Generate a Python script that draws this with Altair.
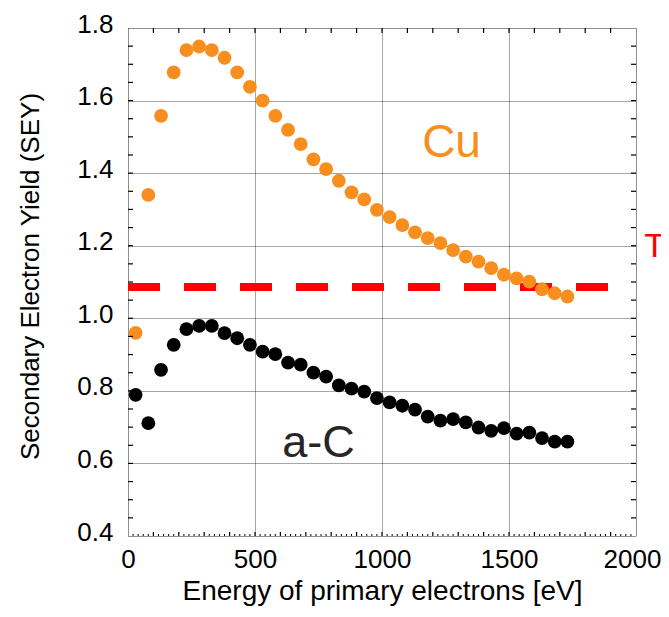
import altair as alt
import pandas as pd

# ---- data ----
energy = [30, 80, 130, 180, 230, 280, 330, 380, 430, 480, 530, 580, 630, 680,
          730, 780, 830, 880, 930, 980, 1030, 1080, 1130, 1180, 1230, 1280,
          1330, 1380, 1430, 1480, 1530, 1580, 1630, 1680, 1730]
sey_cu = [0.96, 1.34, 1.558, 1.678, 1.739, 1.749, 1.739, 1.718, 1.678, 1.638,
          1.600, 1.558, 1.519, 1.480, 1.438, 1.411, 1.379, 1.347, 1.328, 1.299,
          1.279, 1.257, 1.237, 1.221, 1.207, 1.188, 1.170, 1.156, 1.138, 1.120,
          1.110, 1.101, 1.080, 1.069, 1.060]
sey_ac = [0.789, 0.711, 0.858, 0.927, 0.970, 0.979, 0.979, 0.959, 0.945, 0.927,
          0.908, 0.901, 0.878, 0.872, 0.850, 0.839, 0.815, 0.806, 0.798, 0.780,
          0.768, 0.759, 0.748, 0.729, 0.718, 0.722, 0.713, 0.699, 0.690, 0.697,
          0.682, 0.685, 0.670, 0.660, 0.660]
series_names = ["Cu", "a-C"]
series_colors = ["#F78E1E", "#000000"]
threshold_value = [1.086]
threshold_start = [0]
threshold_end = [1890]
x_tick_labels = [0, 500, 1000, 1500, 2000]
y_tick_labels = [0.4, 0.6, 0.8, 1.0, 1.2, 1.4, 1.6, 1.8]

W, H = 508, 508
FONT = "Liberation Sans"

rows = []
for e, v in zip(energy, sey_cu):
    rows.append({"E": e, "V": v, "s": "Cu"})
for e, v in zip(energy, sey_ac):
    rows.append({"E": e, "V": v, "s": "a-C"})
pts_df = pd.DataFrame(rows)

xscale = alt.Scale(domain=[0, 2000], nice=False, zero=False)
yscale = alt.Scale(domain=[0.4, 1.8], nice=False, zero=False)

xaxis = alt.Axis(values=x_tick_labels, format="d", grid=True, gridDash=[1, 1],
                 gridColor="#000000", gridWidth=1, gridOpacity=0.7, ticks=False,
                 tickSize=0, domain=False,
                 labelFont=FONT, labelFontSize=26, labelColor="#000000", labelPadding=10,
                 labelOffset={"expr": "datum.value === 2000 ? -4 : 0"},
                 labelFlush=False, labelOverlap=False,
                 title="Energy of primary electrons [eV]", titleFont=FONT,
                 titleFontSize=28, titleFontWeight="normal", titleColor="#000000",
                 titleBaseline="alphabetic", titleY=63)
yaxis = alt.Axis(values=y_tick_labels, format=".1f", grid=True, gridDash=[1, 1],
                 gridColor="#000000", gridWidth=1, gridOpacity=0.7, ticks=False,
                 tickSize=0, domain=False,
                 labelFont=FONT, labelFontSize=26, labelColor="#000000", labelPadding=15,
                 labelOffset=-4, labelFlush=False, labelOverlap=False,
                 title="Secondary Electron Yield (SEY)", titleFont=FONT,
                 titleFontSize=26, titleFontWeight="normal", titleColor="#000000",
                 titleBaseline="alphabetic", titleX=-90, titleY=248)

X = alt.X("E:Q", scale=xscale, axis=xaxis)
Y = alt.Y("V:Q", scale=yscale, axis=yaxis)

points = alt.Chart(pts_df).mark_circle(size=190, opacity=1).encode(
    x=X, y=Y,
    color=alt.Color("s:N", scale=alt.Scale(domain=series_names, range=series_colors),
                    legend=None),
)

thr_df = pd.DataFrame({"E": threshold_start, "E2": threshold_end, "V": threshold_value})
threshold = alt.Chart(thr_df).mark_rule(color="#FF0000", strokeWidth=8,
                                        strokeDash=[32, 24]).encode(
    x=X, x2="E2:Q", y=Y)

# inside tick marks on all four sides
ytick_df = pd.DataFrame({"V": [0.4 + 0.05 * i for i in range(1, 28)]})
xtick_df = pd.DataFrame({"E": [100 * i for i in range(1, 20)]})
xtiny_df = pd.DataFrame({"E": [20 * i for i in range(1, 100) if i % 5 != 0]})
tick_style = dict(color="#000000", strokeWidth=1.2)
left_ticks = alt.Chart(ytick_df).mark_rule(**tick_style).encode(
    y=Y, x=alt.value(0), x2=alt.value(5))
right_ticks = alt.Chart(ytick_df).mark_rule(**tick_style).encode(
    y=Y, x=alt.value(W - 5), x2=alt.value(W))
top_ticks = alt.Chart(xtick_df).mark_rule(**tick_style).encode(
    x=X, y=alt.value(0), y2=alt.value(5))
bottom_ticks = alt.Chart(xtick_df).mark_rule(**tick_style).encode(
    x=X, y=alt.value(H - 4), y2=alt.value(H))
bottom_tiny = alt.Chart(xtiny_df).mark_rule(color="#000000", strokeWidth=1).encode(
    x=X, y=alt.value(H - 2), y2=alt.value(H))

base = alt.Chart(pd.DataFrame({"a": [0]}))
cu_text = base.mark_text(text="Cu", font=FONT, fontSize=46, color="#F78E1E",
                         align="left", baseline="alphabetic").encode(
    x=alt.X(datum=1158, scale=xscale), y=alt.Y(datum=1.445, scale=yscale))
ac_text = base.mark_text(text="a-C", font=FONT, fontSize=45, color="#262626",
                         align="left", baseline="alphabetic").encode(
    x=alt.X(datum=607, scale=xscale), y=alt.Y(datum=0.619, scale=yscale))
t_text = base.mark_text(text="T", font=FONT, fontSize=34, color="#FF0000",
                        align="left", baseline="alphabetic", clip=False).encode(
    x=alt.X(datum=2032, scale=xscale), y=alt.Y(datum=1.17, scale=yscale))

chart = alt.layer(
    threshold, points, left_ticks, right_ticks, top_ticks, bottom_ticks, bottom_tiny,
    cu_text, ac_text, t_text,
).properties(
    width=W, height=H,
    autosize=alt.AutoSizeParams(type="none"),
    padding={"left": 120, "top": 20, "right": 25, "bottom": 73},
).configure_view(
    stroke="#000000", strokeWidth=1.5, fill="#FFFFFF"
).configure(background="#FFFFFF")

chart.save("out.html", embed_options={"renderer": "svg", "actions": False})
